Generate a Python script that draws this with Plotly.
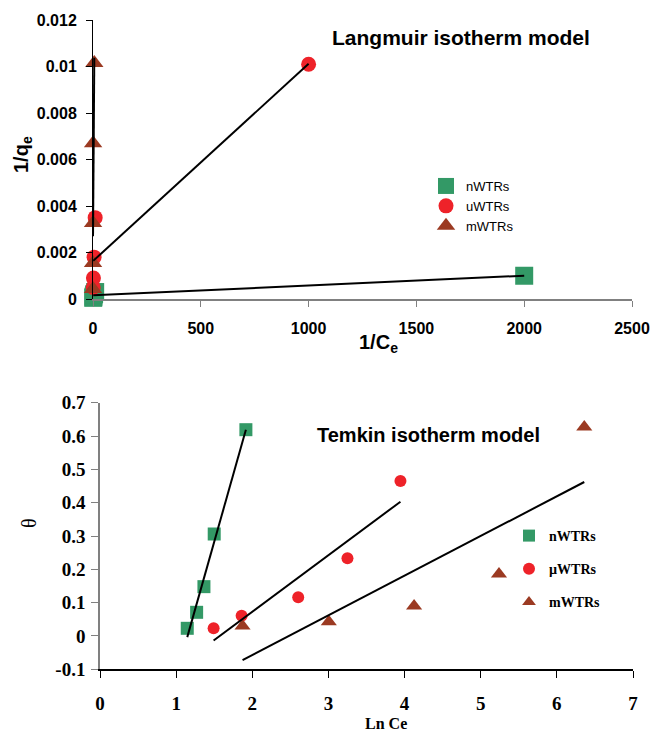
import numpy as np
import plotly.graph_objects as go

# ---------------- Langmuir isotherm (1/qe vs 1/Ce) ----------------
lang_n_x = [1, 2, 5, 10, 2000]
lang_n_y = [0.00005, 0.0001, 0.0002, 0.0003, 0.001]
lang_u_x = [1, 2, 5, 10, 1000]
lang_u_y = [0.0005, 0.0009, 0.0018, 0.0035, 0.0101]
lang_m_x = [0.1, 0.2, 0.3, 0.5, 6]
lang_m_y = [0.00043, 0.00155, 0.00327, 0.0067, 0.01015]

lang_xticks = [0, 500, 1000, 1500, 2000, 2500]
lang_yticks = [0, 0.002, 0.004, 0.006, 0.008, 0.01, 0.012]
lang_yticktext = ["0", "0.002", "0.004", "0.006", "0.008", "0.01", "0.012"]

# ---------------- Temkin isotherm (theta vs Ln Ce) ----------------
tem_n_x = [1.146, 1.269, 1.365, 1.50, 1.916]
tem_n_y = [0.023, 0.071, 0.148, 0.306, 0.619]
tem_u_x = [1.492, 1.86, 2.603, 3.25, 3.946]
tem_u_y = [0.023, 0.061, 0.116, 0.233, 0.465]
tem_m_x = [1.872, 3.005, 4.125, 5.24, 6.36]
tem_m_y = [0.030, 0.043, 0.090, 0.186, 0.627]

tem_xticks = [0, 1, 2, 3, 4, 5, 6, 7]
tem_yticks = [-0.1, 0, 0.1, 0.2, 0.3, 0.4, 0.5, 0.6, 0.7]
tem_yticktext = ["-0.1", "0", "0.1", "0.2", "0.3", "0.4", "0.5", "0.6", "0.7"]

GREEN = "#339966"
RED = "#EE2229"
BROWN = "#9B3A22"

W, H = 651, 733


def px_x(p):
    return p / W


def px_y(p):
    return 1 - p / H


def fit_line(x, y):
    """Least-squares trend line spanning the series' x range."""
    k, b = np.polyfit(x, y, 1)
    xs = np.array([min(x), max(x)])
    return xs, k * xs + b


fig = go.Figure()

# ---- top panel ----
top_series = [
    ("nWTRs", lang_n_x, lang_n_y, "square", 18, GREEN),
    ("uWTRs", lang_u_x, lang_u_y, "circle", 15, RED),
    ("mWTRs", lang_m_x, lang_m_y, "triangle-up", 16, BROWN),
]
for name, x, y, sym, size, col in top_series:
    fig.add_trace(go.Scatter(
        x=x, y=y, mode="markers", name=name, xaxis="x", yaxis="y",
        marker=dict(symbol=sym, size=size, color=col, line=dict(width=0)),
        cliponaxis=False, legend="legend",
    ))
for name, x, y, sym, size, col in top_series:
    lx, ly = fit_line(x, y)
    fig.add_trace(go.Scatter(
        x=lx, y=ly, mode="lines", xaxis="x", yaxis="y",
        line=dict(color="black", width=2), showlegend=False,
        cliponaxis=False, hoverinfo="skip",
    ))

# ---- bottom panel ----
bot_series = [
    ("nWTRs", tem_n_x, tem_n_y, "square", 13, GREEN),
    ("µWTRs", tem_u_x, tem_u_y, "circle", 12, RED),
    ("mWTRs", tem_m_x, tem_m_y, "triangle-up", 14, BROWN),
]
for i, (name, x, y, sym, size, col) in enumerate(bot_series):
    fig.add_trace(go.Scatter(
        x=x, y=y, mode="markers", name=name, xaxis="x2", yaxis="y2",
        marker=dict(symbol=sym, size=size, color=col, line=dict(width=0)),
        cliponaxis=False, legend="legend2", legendgroup=f"g{i}",
    ))
for name, x, y, sym, size, col in bot_series:
    lx, ly = fit_line(x, y)
    fig.add_trace(go.Scatter(
        x=lx, y=ly, mode="lines", xaxis="x2", yaxis="y2",
        line=dict(color="black", width=2), showlegend=False,
        cliponaxis=False, hoverinfo="skip",
    ))

arial_b = dict(family="Arial, Liberation Sans, sans-serif", color="black", weight="bold")
times_b = dict(family="Times New Roman, Liberation Serif, serif", color="black", weight="bold")

fig.update_layout(
    width=W, height=H,
    margin=dict(l=0, r=0, t=0, b=0, autoexpand=False),
    paper_bgcolor="white", plot_bgcolor="white",
    xaxis=dict(
        domain=[px_x(93), px_x(632)], range=[0, 2500], anchor="y",
        tickvals=lang_xticks, ticks="outside", ticklen=6, tickcolor="#808080",
        showline=True, linecolor="#808080", linewidth=1.5,
        showgrid=False, zeroline=False, automargin=False,
        tickfont=dict(size=16, **arial_b), ticklabelstandoff=8,
    ),
    yaxis=dict(
        domain=[px_y(299), px_y(20)], range=[0, 0.012], anchor="x",
        tickvals=lang_yticks, ticktext=lang_yticktext,
        ticks="outside", ticklen=6, tickcolor="black",
        showline=True, linecolor="black", linewidth=1,
        showgrid=False, zeroline=False, automargin=False,
        tickfont=dict(size=16, **arial_b), ticklabelstandoff=6,
    ),
    xaxis2=dict(
        domain=[px_x(100), px_x(633)], range=[0, 7], anchor="y2",
        tickvals=tem_xticks, ticks="outside", ticklen=7, tickcolor="black",
        showline=True, linecolor="black", linewidth=1.5,
        showgrid=False, zeroline=False, automargin=False,
        tickfont=dict(size=19, **times_b), ticklabelstandoff=9,
    ),
    yaxis2=dict(
        domain=[px_y(669.3), px_y(402.7)], range=[-0.1, 0.7], anchor="x2",
        tickvals=tem_yticks, ticktext=tem_yticktext,
        ticks="outside", ticklen=7, tickcolor="#808080",
        showline=True, linecolor="#808080", linewidth=1.5,
        showgrid=False, zeroline=False, automargin=False,
        tickfont=dict(size=19, **times_b), ticklabelstandoff=2,
    ),
    legend=dict(
        x=px_x(426), y=px_y(171), xanchor="left", yanchor="top",
        bgcolor="rgba(0,0,0,0)",
        font=dict(family="Arial, Liberation Sans, sans-serif", size=13, color="black"),
        tracegroupgap=0,
    ),
    legend2=dict(
        x=px_x(509), y=px_y(520), xanchor="left", yanchor="top",
        bgcolor="rgba(0,0,0,0)",
        font=dict(size=14, **times_b),
        tracegroupgap=12, itemsizing="constant",
    ),
    showlegend=True,
)

annotations = [
    dict(text="Langmuir isotherm model", x=px_x(461), y=px_y(38),
         font=dict(size=21, **arial_b)),
    dict(text="1/C<sub>e</sub>", x=px_x(378), y=px_y(343),
         font=dict(size=20, **arial_b)),
    dict(text="1/q<sub>e</sub>", x=px_x(22), y=px_y(155), textangle=-90,
         font=dict(size=20, **arial_b)),
    dict(text="Temkin isotherm model", x=px_x(428), y=px_y(435),
         font=dict(size=20, **arial_b)),
    dict(text="θ", x=px_x(29), y=px_y(523), textangle=-90,
         font=dict(size=20, family="Times New Roman, Liberation Serif, serif", color="black")),
    dict(text="Ln Ce", x=px_x(386), y=px_y(723),
         font=dict(size=16, **times_b)),
]
for a in annotations:
    a.update(xref="paper", yref="paper", showarrow=False,
             xanchor="center", yanchor="middle")
fig.update_layout(annotations=annotations)

fig.write_html("out.html")
